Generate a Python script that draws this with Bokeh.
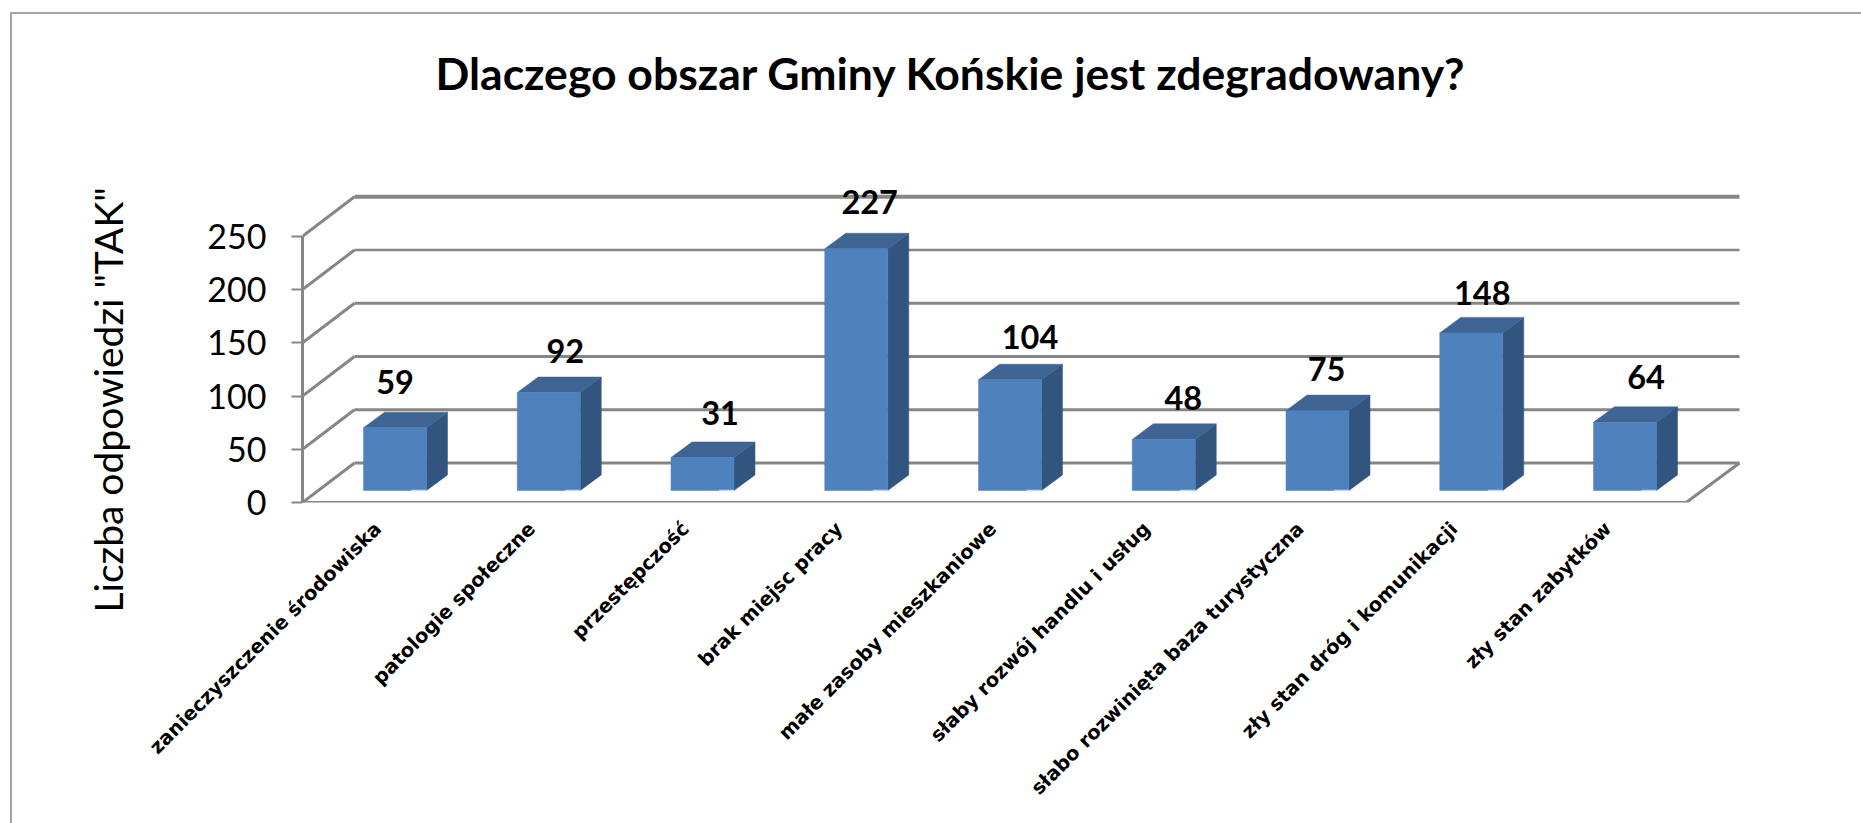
from bokeh.plotting import figure
from bokeh.models import (ColumnDataSource, Range1d, FixedTicker, LinearAxis, Title)
from bokeh.layouts import column
from bokeh.core.properties import value
from bokeh.embed import file_html
from bokeh.resources import INLINE

# ---- data
title_text = "Dlaczego obszar Gminy Końskie jest zdegradowany?"
y_label = 'Liczba odpowiedzi "TAK"'
categories = ["zanieczyszczenie środowiska", "patologie społeczne", "przestępczość",
              "brak miejsc pracy", "małe zasoby mieszkaniowe", "słaby rozwój handlu i usług",
              "słabo rozwinięta baza turystyczna", "zły stan dróg i komunikacji", "zły stan zabytków"]
answers = [59, 92, 31, 227, 104, 48, 75, 148, 64]
y_ticks = [0, 50, 100, 150, 200, 250]

# ---- layout constants (page pixels)
PX_X = 153.75            # px per category
PX_Y = 266 / 250         # px per answer
TICK0 = 377.5            # page x of category 0's tick
ZERO = 501.7             # page y of value 0
FL, FR, FT, FB = 302, 1770, 103, ZERO   # frame
W, H = 1861, 823
OX, OY = 12, 14          # the figure starts inside the outer border

x_of = lambda px: (px - TICK0) / PX_X
y_of = lambda py: (ZERO - py) / PX_Y
dx_px = lambda d: d / PX_X
dy_px = lambda d: d / PX_Y

p = figure(width=W - OX, height=H - OY, output_backend="svg", toolbar_location=None,
           frame_width=FR - FL, frame_height=round(FB - FT),
           min_border_left=FL - OX, min_border_right=W - FR,
           min_border_top=FT - OY, min_border_bottom=round(H - FB),
           x_range=Range1d(x_of(FL), x_of(FR)), y_range=Range1d(0, y_of(FT)),
           x_axis_type=None, y_axis_type=None, tools="", title=title_text)
p.grid.visible = False
p.outline_line_color = None
p.background_fill_color = "white"
p.border_fill_color = "white"

GRID = "#868686"
p.title.text_font = "Lato"
p.title.text_font_style = "bold"
p.title.text_font_size = "44.5px"
p.title.text_color = "black"
p.title.align = "left"
p.title.offset = 133

# walls and gridlines
back_dx, back_dy = dx_px(52), dy_px(39.5)
x0, x_back, x_end, x_floor = x_of(FL), x_of(FL + 52), x_of(1739), x_of(1685.7)
widths = [3, 3, 3, 3, 2.5, 4]
for t, w in zip(y_ticks, widths):
    p.line([x_back, x_end], [t + back_dy, t + back_dy], line_color=GRID, line_width=w)
    p.line([x0, x_back], [t, t + back_dy], line_color=GRID, line_width=3)
p.line([x0, x_floor, x_end], [0, 0, back_dy], line_color=GRID, line_width=3, line_join="miter")

# 3-D bars
half, d_x, d_y = dx_px(31.5), dx_px(21), dy_px(15.5)
base, shift = dy_px(12), dx_px(17)
front_x, front_y, top_x, top_y, side_x, side_y = [], [], [], [], [], []
for i, v in enumerate(answers):
    c = i + shift
    l, r = c - half, c + half
    b, t = base, base + v
    front_x.append([l, r, r, l]); front_y.append([b, b, t, t])
    top_x.append([l, r, r + d_x, l + d_x]); top_y.append([t, t, t + d_y, t + d_y])
    side_x.append([r, r + d_x, r + d_x, r]); side_y.append([b, b + d_y, t + d_y, t])
p.patches(side_x, side_y, fill_color="#32557F", line_color="#32557F", line_width=0.5)
p.patches(top_x, top_y, fill_color="#3E6494", line_color="#3E6494", line_width=0.5)
p.patches(front_x, front_y, fill_color="#4F81BD", line_color="#4F81BD", line_width=0.5)
p.segment([i + shift + half - dx_px(15) for i in range(len(answers))], [base] * len(answers),
          [i + shift + half for i in range(len(answers))], [base] * len(answers),
          line_color="#C6D9F1", line_width=1.5)

# value labels
label_dx = [0, 16.5, 17.5, 13.4, 20, 19.5, 9, 11, 21]
label_dy = [45.7, 42, 44, 47, 43, 41.6, 42, 39.7, 45]
src = ColumnDataSource(dict(x=[i + shift for i in range(len(answers))],
                            y=[base + v for v in answers],
                            text=[str(v) for v in answers],
                            dx=label_dx, dy=[-d for d in label_dy]))
p.text("x", "y", text="text", x_offset="dx", y_offset="dy", source=src,
       text_font=value("Lato"), text_font_style="bold", text_font_size="32.5px",
       text_color="black", text_align="center", text_baseline="alphabetic")

# axes
ya = LinearAxis(ticker=FixedTicker(ticks=y_ticks), bounds=(0, 250))
ya.axis_line_color = GRID; ya.axis_line_width = 3
ya.major_tick_line_color = GRID; ya.major_tick_line_width = 2
ya.major_tick_in = 0; ya.major_tick_out = 11
ya.minor_tick_line_color = None
ya.major_label_standoff = 25
ya.major_label_text_font = "Lato"; ya.major_label_text_font_size = "34px"; ya.major_label_text_color = "black"
p.add_layout(ya, "left")

# value-axis caption, kept apart from the axis so it can sit lower than the frame's centre
p.add_layout(Title(text=y_label, align="left", offset=-110, standoff=143, vertical_align="top",
                   text_font="Lato", text_font_size="39px", text_font_style="normal",
                   text_color="black"), "left")

xa = LinearAxis(ticker=FixedTicker(ticks=list(range(len(categories)))),
                major_label_overrides={i: c for i, c in enumerate(categories)})
xa.axis_line_color = None; xa.major_tick_line_color = None; xa.minor_tick_line_color = None
xa.major_label_orientation = 0.785398
xa.major_label_standoff = 17
xa.major_label_text_font = "DejaVu Sans"; xa.major_label_text_font_style = "bold"
xa.major_label_text_font_size = "19.5px"; xa.major_label_text_color = "black"
p.add_layout(xa, "below")

# outer chart border: only the top and left edges lie inside the picture
page = column(p, margin=(12, 0, 0, 10),
              styles={"border-left": "2px solid #a3a3a3", "border-top": "2px solid #a3a3a3"})

open("out.html", "w").write(file_html(page, INLINE))
